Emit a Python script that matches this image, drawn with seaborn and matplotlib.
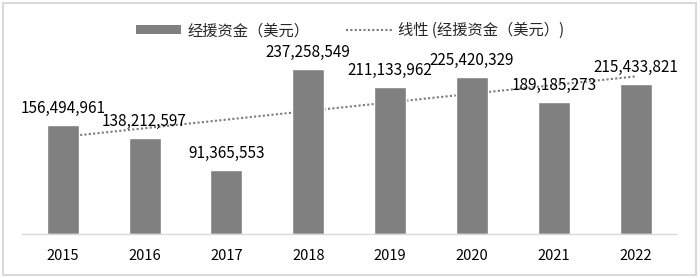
import numpy as np
import matplotlib
matplotlib.use("Agg")
import matplotlib.pyplot as plt
from matplotlib.patches import Patch, Rectangle
from matplotlib.lines import Line2D
import seaborn as sns

# data
years = ["2015", "2016", "2017", "2018", "2019", "2020", "2021", "2022"]
funds = [156494961, 138212597, 91365553, 237258549,
         211133962, 225420329, 189185273, 215433821]
bar_label = "经援资金（美元）"
trend_label = "线性 (经援资金（美元）)"

BAR_COLOR = "#808080"
GRID_GRAY = "#d9d9d9"
DOTS = (0, (1, 1.1))

sns.set_theme(style="white")
plt.rcParams["font.family"] = ["Noto Sans CJK SC", "DejaVu Sans"]

fig = plt.figure(figsize=(7, 2.78), dpi=100)
ax = fig.add_axes([0.031, 0.158, 0.936, 0.626])

# linear trend line (like Excel's trendline), drawn behind the bars
x = np.arange(len(years))
slope, intercept = np.polyfit(x, funds, 1)
ax.plot(x, slope * x + intercept, linestyle=DOTS, color="#7a7a7a",
        linewidth=1.5, zorder=1)

sns.barplot(x=years, y=funds, color=BAR_COLOR, saturation=1, width=0.39,
            ax=ax, zorder=2)

for i, v in enumerate(funds):
    ax.annotate(f"{v:,}", (i, v), xytext=(0, 12), textcoords="offset points",
                ha="center", va="center", fontsize=11, color="#000000",
                zorder=3)

ax.set_ylim(0, 250000000)
ax.set_xlim(-0.5, len(years) - 0.5)
ax.set_yticks([])
ax.set_xlabel("")
ax.set_ylabel("")
for side in ["top", "left", "right"]:
    ax.spines[side].set_visible(False)
ax.spines["bottom"].set_color(GRID_GRAY)
ax.spines["bottom"].set_linewidth(1)
ax.tick_params(axis="x", length=0, pad=11, labelsize=10.5, colors="#000000")
ax.set_facecolor("white")

handles = [
    Patch(facecolor=BAR_COLOR, edgecolor="none", label=bar_label),
    Line2D([0], [0], linestyle=DOTS, color="#7a7a7a", linewidth=1.5,
           label=trend_label),
]
fig.legend(handles=handles, loc="center", bbox_to_anchor=(0.5, 0.89), ncol=2,
           frameon=False, fontsize=11, handlelength=3.0, handleheight=0.55,
           columnspacing=2.4, handletextpad=0.4)

# light grey frame around the whole chart
fig.patches.append(Rectangle((0.004, 0.011), 0.99, 0.978, transform=fig.transFigure,
                             fill=False, edgecolor=GRID_GRAY, linewidth=1.5))

fig.savefig("out.png", dpi=100, facecolor="white")
